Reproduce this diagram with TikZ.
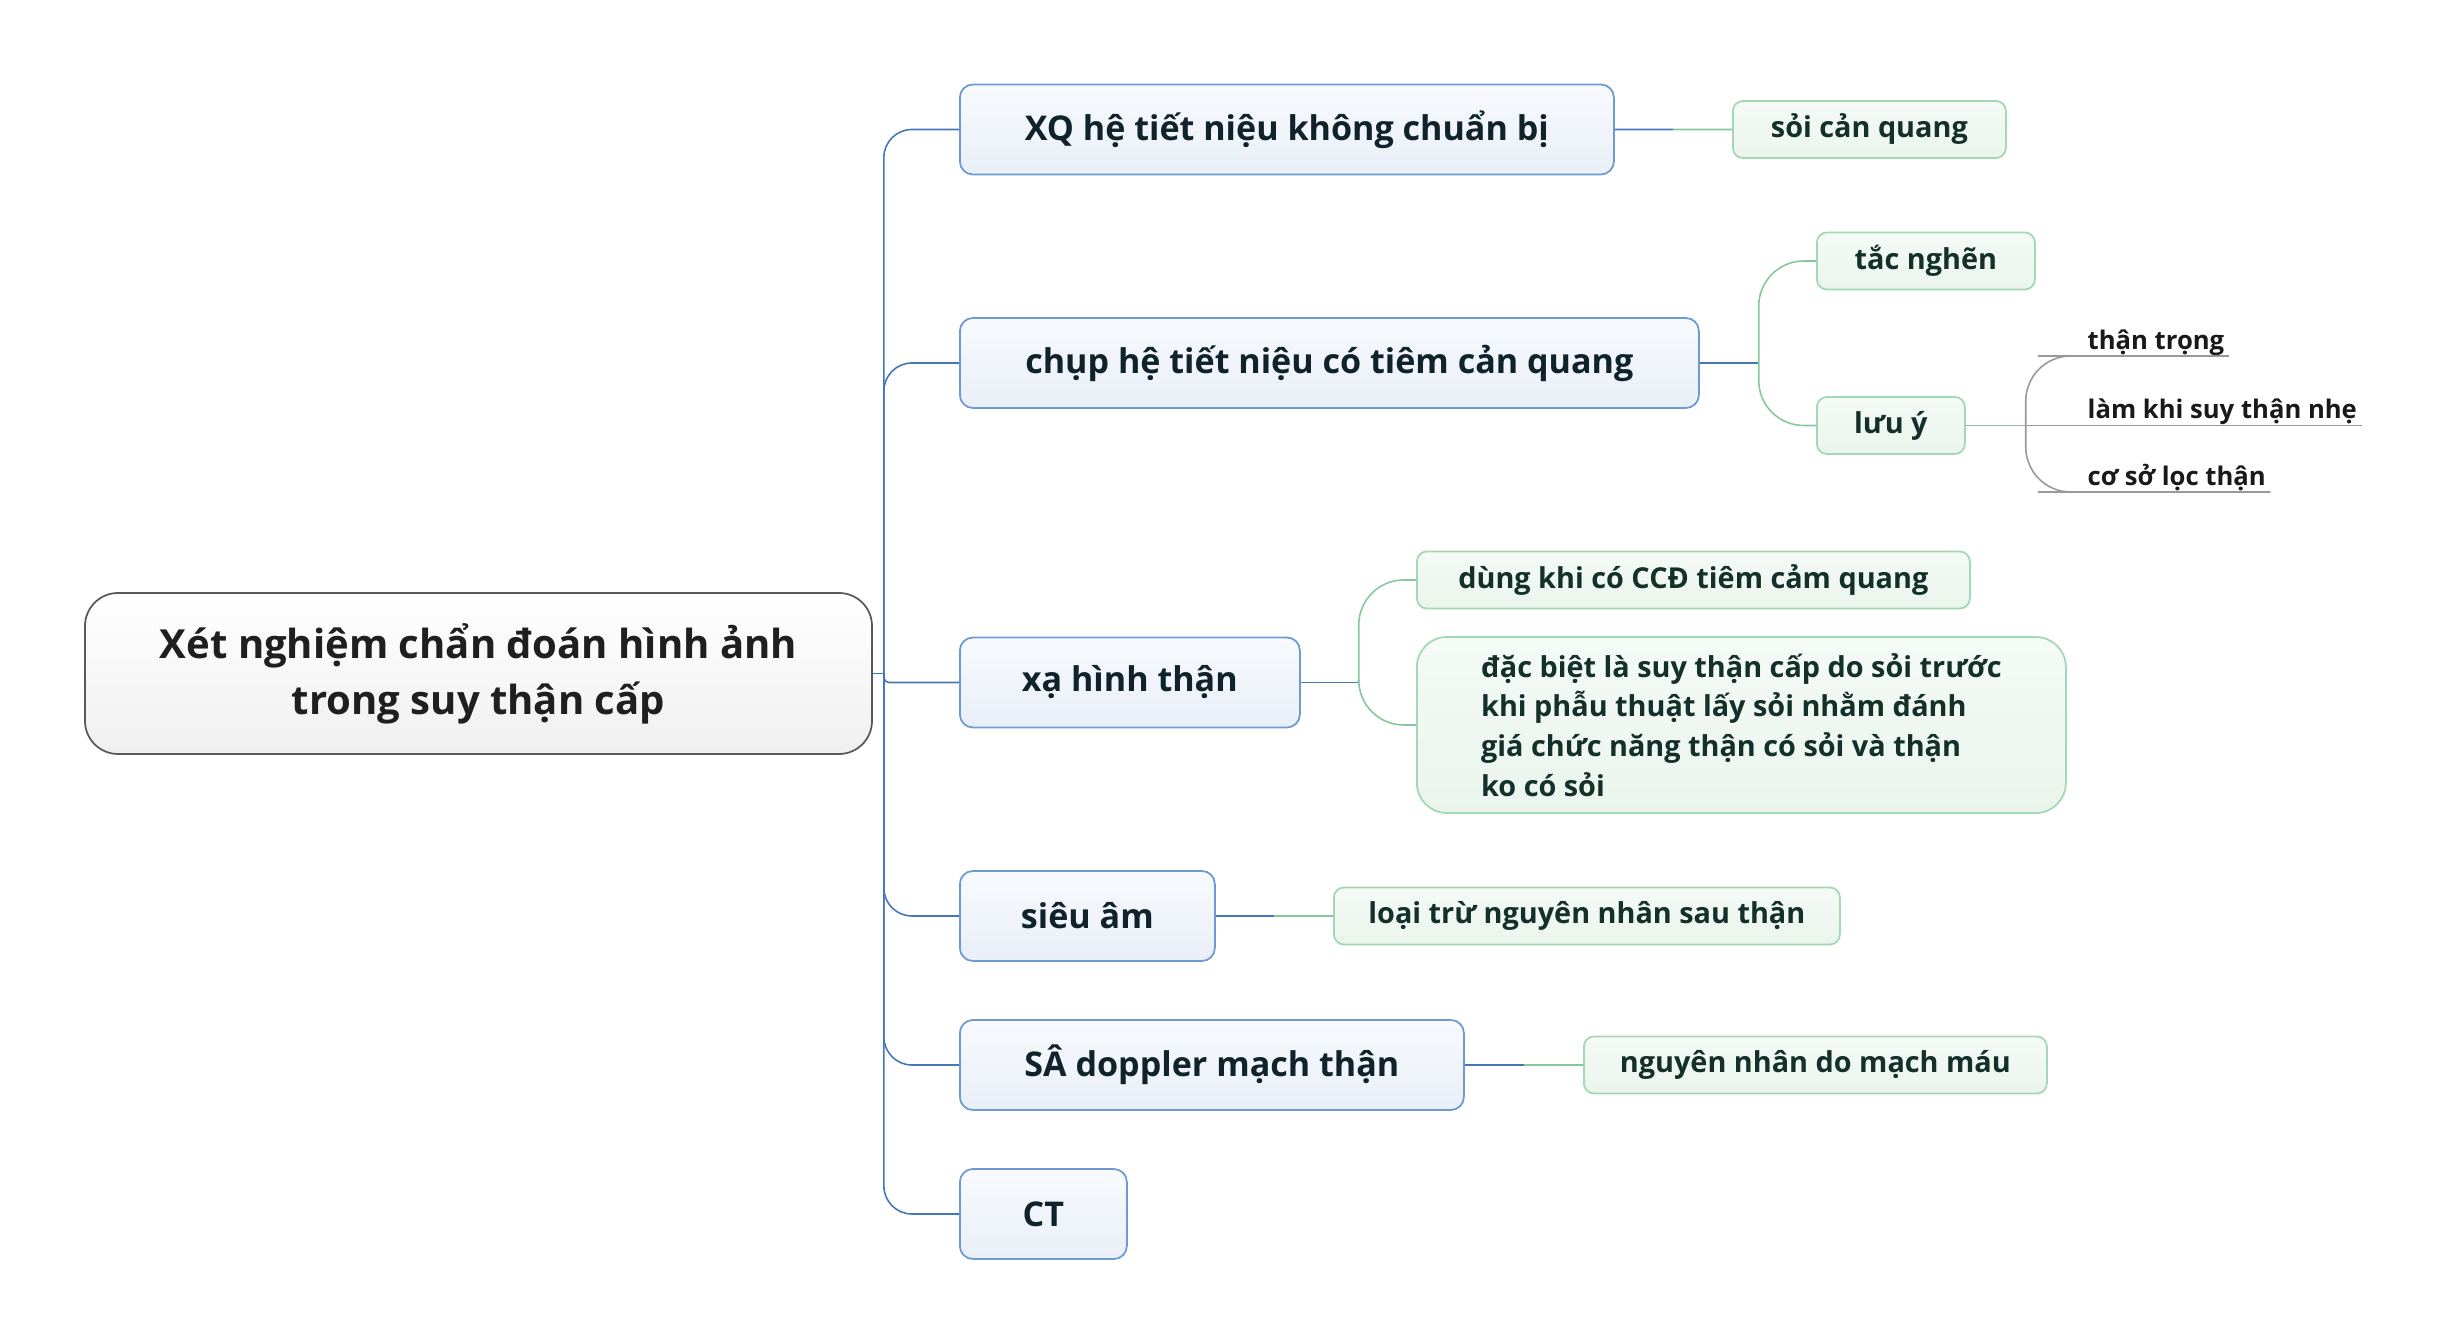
\documentclass[tikz,border=0pt]{standalone}
\usepackage{fontspec}
\setmainfont{Open Sans}
\usetikzlibrary{calc}

\definecolor{trunkcol}{HTML}{4576B9}
\definecolor{topicline}{HTML}{6E9AD3}
\definecolor{topictop}{HTML}{F8FAFD}
\definecolor{topicbot}{HTML}{E9EFF8}
\definecolor{topictext}{HTML}{10232B}
\definecolor{twigcol}{HTML}{86C89C}
\definecolor{subline}{HTML}{A3D8B4}
\definecolor{subtop}{HTML}{F5FAF6}
\definecolor{subbot}{HTML}{EAF4EC}
\definecolor{subtext}{HTML}{14302A}

\begin{document}
\begin{tikzpicture}[
    rootbox/.style={draw=black!65, rounded corners=0.33cm, top color=white, bottom color=black!6, line width=0.5pt, text=black!88, font=\fontsize{11.4}{16}\selectfont\bfseries, align=center, inner sep=0pt},
    topic/.style={draw=topicline, rounded corners=0.13cm, top color=topictop, bottom color=topicbot, line width=0.5pt, text=topictext, font=\fontsize{9.7}{11}\selectfont\bfseries, minimum height=0.9cm, inner sep=0pt, anchor=west},
    subtopic/.style={draw=subline, rounded corners=0.1cm, top color=subtop, bottom color=subbot, line width=0.5pt, text=subtext, font=\fontsize{8.2}{11.3}\selectfont\bfseries, minimum height=0.57cm, inner sep=0pt, anchor=west},
    leaf/.style={font=\fontsize{7.3}{9}\selectfont\bfseries, text=black!90, inner xsep=0.04cm, inner ysep=0pt, anchor=south west},
    trunk/.style={draw=trunkcol, line width=0.45pt, rounded corners=0.28cm},
    twig/.style={draw=twigcol, line width=0.45pt, rounded corners=0.45cm},
    leafline/.style={draw=black!40, line width=0.45pt, rounded corners=0.45cm}
]
    \useasboundingbox (0,0) rectangle (24.41,-13.43);

    \node[rootbox, minimum width=7.87cm, minimum height=1.61cm] (root) at (4.785,-6.735) {Xét nghiệm chẩn đoán hình ảnh\\trong suy thận cấp};

    \node[topic, minimum width=6.54cm] (xq) at (9.59,-1.295) {XQ hệ tiết niệu không chuẩn bị};
    \node[topic, minimum width=7.39cm] (chup) at (9.59,-3.63) {chụp hệ tiết niệu có tiêm cản quang};
    \node[topic, minimum width=3.40cm] (xa) at (9.59,-6.825) {xạ hình thận};
    \node[topic, minimum width=2.55cm] (sieuam) at (9.59,-9.16) {siêu âm};
    \node[topic, minimum width=5.04cm] (doppler) at (9.59,-10.65) {SÂ doppler mạch thận};
    \node[topic, minimum width=1.67cm] (ct) at (9.59,-12.14) {CT};

    \node[subtopic, minimum width=2.73cm] (soi) at (17.32,-1.295) {sỏi cản quang};
    \node[subtopic, minimum width=2.18cm] (tac) at (18.16,-2.61) {tắc nghẽn};
    \node[subtopic, minimum width=1.48cm] (luuy) at (18.16,-4.255) {lưu ý};
    \node[subtopic, minimum width=5.53cm] (dung) at (14.16,-5.80) {dùng khi có CCĐ tiêm cảm quang};
    \node[subtopic, minimum width=6.49cm, minimum height=1.76cm, align=left, rounded corners=0.3cm] (dacbiet) at (14.16,-7.25) {đặc biệt là suy thận cấp do sỏi trước\\khi phẫu thuật lấy sỏi nhằm đánh\\giá chức năng thận có sỏi và thận\\ko có sỏi};
    \node[subtopic, minimum width=5.06cm] (loaitru) at (13.33,-9.16) {loại trừ nguyên nhân sau thận};
    \node[subtopic, minimum width=4.63cm] (mach) at (15.83,-10.65) {nguyên nhân do mạch máu};

    \node[leaf] (thantrong) at (20.83,-3.56) {thận trọng};
    \node[leaf] (lamkhi) at (20.83,-4.255) {làm khi suy thận nhẹ};
    \node[leaf] (coso) at (20.83,-4.92) {cơ sở lọc thận};

    \draw[trunk] (root.east) -- ++(0.11,0) coordinate (hub);
    \foreach \t in {xq,chup,sieuam,doppler,ct}
        \draw[trunk] (hub) |- (\t.west);
    \draw[trunk, rounded corners=0.05cm] (hub) |- (xa.west);

    \draw[trunk] (xq.east) -- ($(xq.east)!0.5!(soi.west)$) coordinate (xqmid);
    \draw[twig] (xqmid) -- (soi.west);
    \draw[trunk] (sieuam.east) -- ($(sieuam.east)!0.5!(loaitru.west)$) coordinate (sieuammid);
    \draw[twig] (sieuammid) -- (loaitru.west);
    \draw[trunk] (doppler.east) -- ($(doppler.east)!0.5!(mach.west)$) coordinate (dopplermid);
    \draw[twig] (dopplermid) -- (mach.west);

    \draw[trunk] (chup.east) -- ++(0.59,0) coordinate (chupfork);
    \draw[twig] (chupfork) |- (tac.west);
    \draw[twig] (chupfork) |- (luuy.west);

    \draw[trunk] (xa.east) -- ++(0.58,0) coordinate (xafork);
    \draw[twig] (xafork) |- (dung.west);
    \draw[twig] (xafork) |- (dacbiet.west);

    \draw[twig] (luuy.east) -- ++(0.6,0) coordinate (luufork);
    \draw[leafline] (luufork) |- (thantrong.south west) -- (thantrong.south east);
    \draw[leafline] (luufork) -- (lamkhi.south west) -- (lamkhi.south east);
    \draw[leafline] (luufork) |- (coso.south west) -- (coso.south east);
\end{tikzpicture}
\end{document}
